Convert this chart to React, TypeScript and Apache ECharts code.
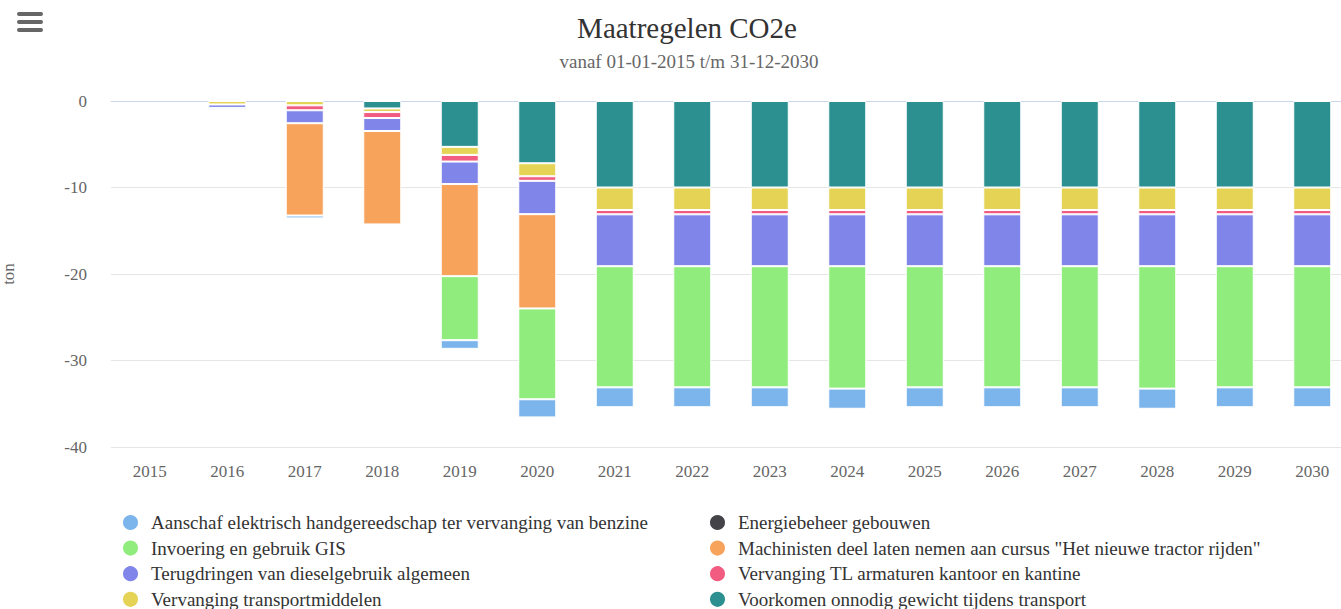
import React, { useEffect, useRef } from "react";
import * as echarts from "echarts";

const years = ["2015","2016","2017","2018","2019","2020","2021","2022","2023","2024","2025","2026","2027","2028","2029","2030"];

const aanschaf = [null, -0.25, -0.33, null, -1.0, -2.1, -2.3, -2.3, -2.3, -2.33, -2.3, -2.3, -2.3, -2.33, -2.3, -2.3];
const energiebeheer = [null, null, null, null, null, null, null, null, null, null, null, null, null, null, null, null];
const invoeringGIS = [null, null, null, null, -7.4, -10.5, -14.0, -14.0, -14.0, -14.15, -14.0, -14.0, -14.0, -14.15, -14.0, -14.0];
const machinisten = [null, null, -10.67, -10.8, -10.65, -10.9, null, null, null, null, null, null, null, null, null, null];
const terugdringen = [null, -0.4, -1.5, -1.5, -2.6, -3.85, -6.0, -6.0, -6.0, -6.0, -6.0, -6.0, -6.0, -6.0, -6.0, -6.0];
const vervangingTL = [null, null, -0.57, -0.69, -0.77, -0.53, -0.5, -0.5, -0.5, -0.5, -0.5, -0.5, -0.5, -0.5, -0.5, -0.5];
const vervangingTransport = [null, -0.4, -0.5, -0.42, -0.93, -1.5, -2.6, -2.6, -2.6, -2.6, -2.6, -2.6, -2.6, -2.6, -2.6, -2.6];
const voorkomen = [null, null, null, -0.86, -5.3, -7.2, -10.0, -10.0, -10.0, -10.0, -10.0, -10.0, -10.0, -10.0, -10.0, -10.0];

const yTicks = { min: -40, max: 0, interval: 10 };

const names = {
  aanschaf: "Aanschaf elektrisch handgereedschap ter vervanging van benzine",
  energie: "Energiebeheer gebouwen",
  gis: "Invoering en gebruik GIS",
  mach: "Machinisten deel laten nemen aan cursus \"Het nieuwe tractor rijden\"",
  terug: "Terugdringen van dieselgebruik algemeen",
  tl: "Vervanging TL armaturen kantoor en kantine",
  transport: "Vervanging transportmiddelen",
  voork: "Voorkomen onnodig gewicht tijdens transport",
};

const FONT = "'Liberation Serif', 'Times New Roman', serif";

export default function App() {
  const ref = useRef<HTMLDivElement>(null);
  useEffect(() => {
    const chart = echarts.init(ref.current!, null, { renderer: "svg" });
    // stacking order: first series is adjacent to zero for negative values
    const stackOrder = [
      { name: names.voork, data: voorkomen, color: "#2b908f" },
      { name: names.transport, data: vervangingTransport, color: "#e4d354" },
      { name: names.tl, data: vervangingTL, color: "#f15c80" },
      { name: names.terug, data: terugdringen, color: "#8085e9" },
      { name: names.mach, data: machinisten, color: "#f7a35c" },
      { name: names.gis, data: invoeringGIS, color: "#90ed7d" },
      { name: names.energie, data: energiebeheer, color: "#434348" },
      { name: names.aanschaf, data: aanschaf, color: "#7cb5ec" },
    ];
    const legendCommon = {
      orient: "vertical",
      top: 513,
      height: 200,
      padding: 0,
      icon: "circle",
      itemWidth: 31,
      itemHeight: 17,
      itemGap: 6.6,
      textStyle: { fontFamily: FONT, fontSize: 19, color: "#333" },
    };
    chart.setOption({
      animation: false,
      textStyle: { fontFamily: FONT },
      title: [
        {
          text: "Maatregelen CO2e",
          left: 687,
          textAlign: "center",
          top: 13,
          padding: 0,
          textStyle: { fontFamily: FONT, fontSize: 29, fontWeight: "normal", color: "#333" },
        },
        {
          text: "vanaf 01-01-2015 t/m 31-12-2030",
          left: 689,
          textAlign: "center",
          top: 52,
          padding: 0,
          textStyle: { fontFamily: FONT, fontSize: 19, fontWeight: "normal", color: "#666" },
        },
      ],
      legend: [
        { ...legendCommon, left: 121, data: [names.aanschaf, names.gis, names.terug, names.transport] },
        { ...legendCommon, left: 708, data: [names.energie, names.mach, names.tl, names.voork] },
      ],
      grid: { left: 111, top: 101, width: 1240, height: 346, containLabel: false, outerBoundsMode: "none" },
      xAxis: {
        type: "category",
        data: years,
        axisLine: { lineStyle: { color: "#ccd6eb" } },
        axisTick: { show: false },
        axisLabel: { color: "#666", fontSize: 17, fontFamily: FONT, margin: 16 },
      },
      yAxis: {
        type: "value",
        min: yTicks.min,
        max: yTicks.max,
        interval: yTicks.interval,
        name: "ton",
        nameLocation: "middle",
        nameRotate: 90,
        nameGap: 94,
        nameTextStyle: { color: "#666", fontSize: 17, fontFamily: FONT },
        axisLabel: { color: "#666", fontSize: 17, fontFamily: FONT, margin: 24 },
        splitLine: { lineStyle: { color: "#e6e6e6" } },
        axisLine: { show: false },
        axisTick: { show: false },
      },
      series: stackOrder.map((s) => ({
        type: "bar",
        name: s.name,
        stack: "total",
        data: s.data,
        barWidth: 38,
        itemStyle: { color: s.color, borderColor: "#fff", borderWidth: 1 },
      })),
      graphic: [
        { type: "rect", shape: { x: 17, y: 12, width: 26, height: 4, r: 2 }, style: { fill: "#666" } },
        { type: "rect", shape: { x: 17, y: 20, width: 26, height: 4, r: 2 }, style: { fill: "#666" } },
        { type: "rect", shape: { x: 17, y: 28, width: 26, height: 4, r: 2 }, style: { fill: "#666" } },
      ],
    });
    return () => chart.dispose();
  }, []);
  return (
    <div
      ref={ref}
      style={{ position: "fixed", left: 0, top: 0, width: 1341, height: 609, background: "#fff" }}
    />
  );
}
